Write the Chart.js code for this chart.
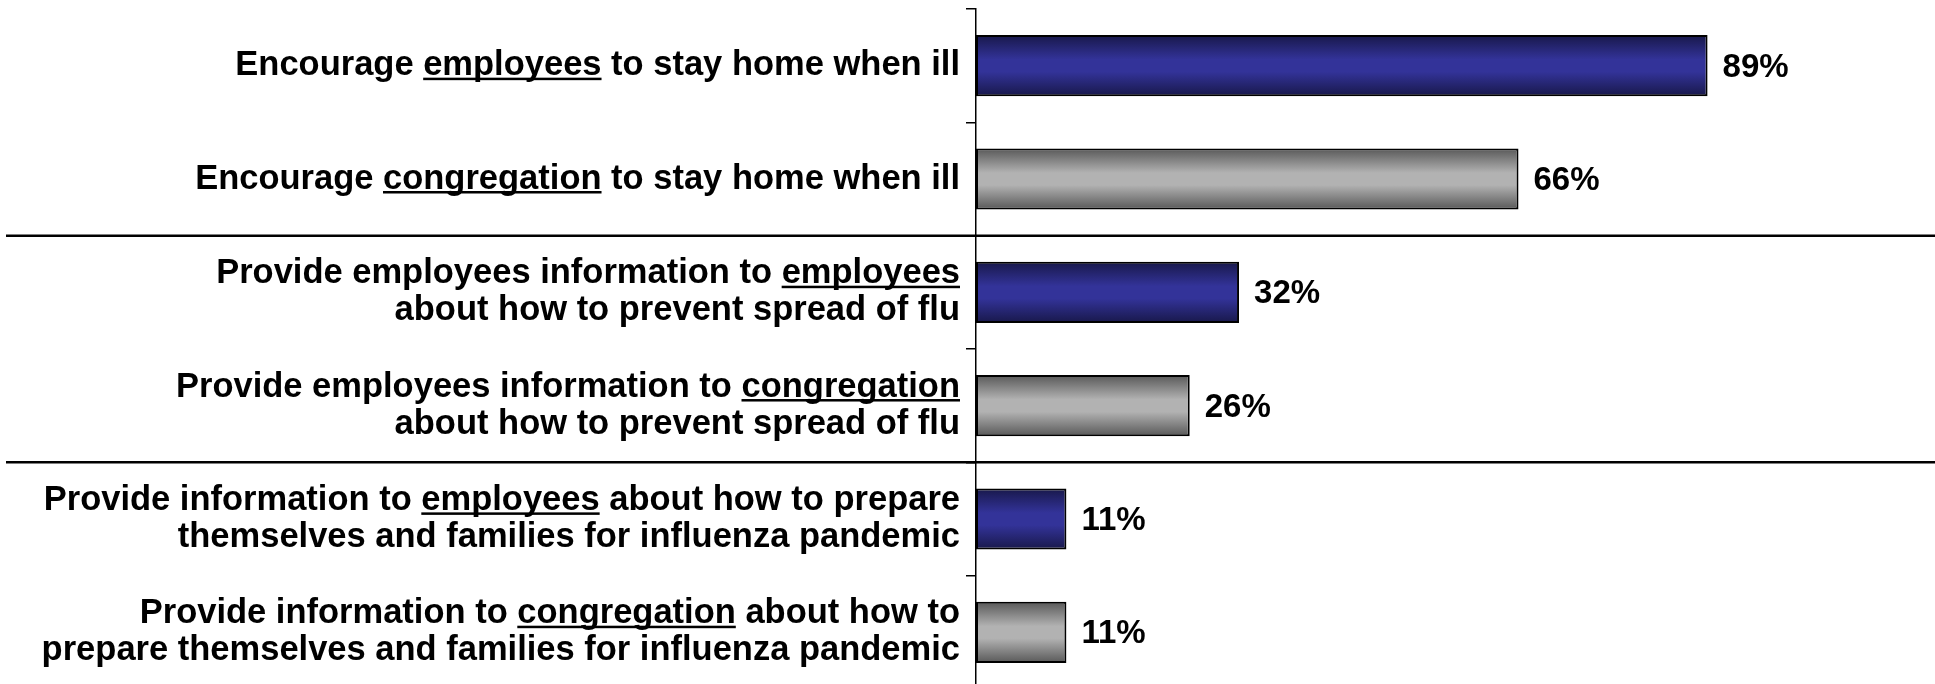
<!DOCTYPE html>
<html>
<head>
<meta charset="utf-8">
<script src="https://cdn.jsdelivr.net/npm/chart.js@4"></script>
<style>
  html, body { margin: 0; padding: 0; background: #fff; overflow: hidden; }
  #wrap { position: relative; width: 1935px; height: 700px; }
</style>
</head>
<body>
<div id="wrap"><canvas id="flu_chart"></canvas></div>
<script>
/************ 데이터 ************/
const categories = [
  "Encourage employees to stay home when ill",
  "Encourage congregation to stay home when ill",
  ["Provide employees information to employees", "about how to prevent spread of flu"],
  ["Provide employees information to congregation", "about how to prevent spread of flu"],
  ["Provide information to employees about how to prepare", "themselves and families for influenza pandemic"],
  ["Provide information to congregation about how to", "prepare themselves and families for influenza pandemic"]
];
const values = [89, 66, 32, 26, 11, 11];
const valueLabels = ["89%", "66%", "32%", "26%", "11%", "11%"];
// [line, word] underlined in each label
const underlined = [[0, "employees"], [0, "congregation"], [0, "employees"], [0, "congregation"], [0, "employees"], [0, "congregation"]];
// horizontal separator after these category indexes
const separatorAfter = [1, 3];

/************ 스타일 ************/
const FONT = '"Liberation Sans", Arial, sans-serif';
const labelSize = 34.5;
const labelLine = 1.08;
const barPct = 0.54;
const palette = [
  ['#18184a', '#333399'],
  ['#585858', '#b2b2b2']
];

function barFill(context) {
  const chart = context.chart;
  const yScale = chart.scales.y;
  const c = palette[context.dataIndex % 2];
  if (!yScale || !chart.chartArea) return c[1];
  const cy = yScale.getPixelForValue(context.dataIndex);
  const half = (yScale.height / categories.length) * barPct / 2;
  const g = chart.ctx.createLinearGradient(0, cy - half, 0, cy + half);
  g.addColorStop(0, c[0]);
  g.addColorStop(0.4, c[1]);
  g.addColorStop(0.6, c[1]);
  g.addColorStop(1, c[0]);
  return g;
}

/************ 밑줄, 구분선, 값 라벨 ************/
const extras = {
  id: 'extras',
  afterDraw(chart) {
    const ctx = chart.ctx;
    const y = chart.scales.y;
    ctx.save();

    ctx.strokeStyle = '#000';
    ctx.lineWidth = 2.5;
    separatorAfter.forEach(function (i) {
      const py = (y.getPixelForValue(i) + y.getPixelForValue(i + 1)) / 2;
      ctx.beginPath();
      ctx.moveTo(6, py);
      ctx.lineTo(chart.width, py);
      ctx.stroke();
    });

    ctx.fillStyle = '#000';
    ctx.font = 'bold ' + labelSize + 'px ' + FONT;
    const right = y.right - 10 - 6;
    const lh = labelSize * labelLine;
    categories.forEach(function (label, i) {
      const lines = Array.isArray(label) ? label : [label];
      const li = underlined[i][0];
      const word = underlined[i][1];
      const line = lines[li];
      const lineY = y.getPixelForValue(i) + (1 - lines.length) * lh / 2 + li * lh;
      const idx = line.lastIndexOf(word);
      const x0 = right - ctx.measureText(line).width + ctx.measureText(line.slice(0, idx)).width;
      ctx.fillRect(x0, lineY + 12, ctx.measureText(word).width, 2.5);
    });

    ctx.font = 'bold 33px ' + FONT;
    ctx.textAlign = 'left';
    ctx.textBaseline = 'middle';
    chart.getDatasetMeta(0).data.forEach(function (bar, i) {
      ctx.fillText(valueLabels[i], bar.x + 15, bar.y + 2);
    });
    ctx.restore();
  }
};

/************ 차트 ************/
const ctx = document.getElementById('flu_chart');

const data = {
  labels: categories,
  datasets: [{
    data: values,
    backgroundColor: barFill,
    borderColor: '#000',
    borderWidth: 2,
    borderSkipped: false,
    categoryPercentage: 1,
    barPercentage: barPct
  }]
};

const config = {
  type: 'bar',
  data: data,
  options: {
    indexAxis: 'y',
    responsive: true,
    maintainAspectRatio: false,
    animation: false,
    layout: {
      padding: { top: 9, bottom: 11, right: 137, left: 0 }
    },
    scales: {
      x: {
        display: false,
        min: 0,
        max: 100
      },
      y: {
        afterFit: function (scale) {
          scale.width = 976;
          scale.paddingTop = 0;
          scale.paddingBottom = 0;
        },
        grid: {
          display: true,
          drawOnChartArea: false,
          drawTicks: true,
          tickLength: 10,
          color: '#000',
          lineWidth: 1.5
        },
        border: { display: true, color: '#000', width: 1.5 },
        ticks: {
          color: '#000',
          padding: 6,
          font: { family: FONT, size: labelSize, weight: 'bold', lineHeight: labelLine }
        }
      }
    },
    plugins: {
      legend: { display: false },
      tooltip: { enabled: false }
    }
  },
  plugins: [extras]
};

new Chart(ctx, config);
</script>
</body>
</html>
